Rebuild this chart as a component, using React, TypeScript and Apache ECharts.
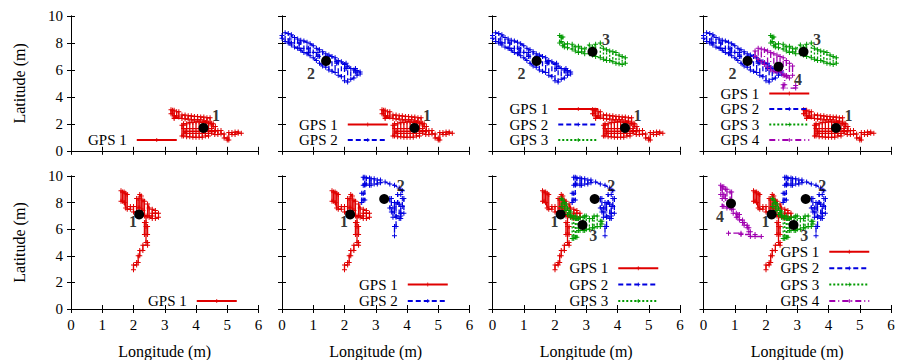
import React, { useEffect, useRef } from 'react';
import * as echarts from 'echarts';

const FONT = '"Liberation Serif", "DejaVu Serif", serif';

// Axis ranges / ticks
const xRange = [0, 6];
const yRange = [0, 10];
const xInterval = 1;
const yInterval = 2;

const seriesNames = ['GPS 1', 'GPS 2', 'GPS 3', 'GPS 4'];
const markerNames = ['1', '2', '3', '4'];

// ---- Top row traces (longitude, latitude) ----
const topGps1 = [
  [3.2, 3.05], [3.2, 2.75], [3.25, 2.75], [3.25, 3.0], [3.3, 3.0], [3.3, 2.6], [3.38, 2.6], [3.38, 2.9],
  [3.45, 2.9], [3.45, 2.5], [3.3, 2.5], [3.3, 2.4], [3.55, 2.4], [3.55, 2.65], [3.65, 2.65], [3.65, 2.35],
  [3.75, 2.35], [3.75, 2.6], [3.85, 2.6], [3.85, 2.3], [3.95, 2.3], [3.95, 2.55], [4.05, 2.55], [4.05, 2.3],
  [4.15, 2.3], [4.15, 2.5], [4.25, 2.5], [4.25, 2.2], [4.35, 2.2], [4.35, 2.45], [4.45, 2.45], [4.45, 2.0],
  [4.55, 2.0], [4.55, 1.8], [4.62, 1.8], [4.62, 1.5], [4.5, 1.5], [4.5, 2.05], [4.4, 2.05], [4.4, 1.1],
  [4.3, 1.1], [4.3, 2.1], [4.2, 2.1], [4.2, 1.0], [4.1, 1.0], [4.1, 2.15], [4.0, 2.15], [4.0, 1.0],
  [3.9, 1.0], [3.9, 2.1], [3.8, 2.1], [3.8, 1.05], [3.7, 1.05], [3.7, 2.0], [3.6, 2.0], [3.6, 1.1],
  [3.55, 1.1], [3.55, 1.9], [3.6, 1.9], [3.6, 1.65], [4.5, 1.65], [4.5, 1.3], [3.65, 1.3], [3.65, 1.45],
  [4.6, 1.45], [4.6, 1.2], [4.7, 1.2], [4.7, 1.5], [4.8, 1.5], [4.8, 1.25], [4.9, 1.25], [4.9, 0.95],
  [5.0, 0.95], [5.0, 0.8], [5.05, 0.8], [5.05, 1.35], [5.15, 1.35], [5.15, 1.2], [5.25, 1.2], [5.25, 1.4],
  [5.35, 1.4], [5.35, 1.3], [5.45, 1.3],
];
const topGps2 = [
  [0.0, 8.55], [0.0, 8.35], [0.1, 8.1], [0.1, 8.75], [0.2, 8.7], [0.2, 8.0], [0.3, 7.85], [0.3, 8.6],
  [0.4, 8.4], [0.4, 7.7], [0.5, 7.6], [0.5, 8.3], [0.6, 8.2], [0.6, 7.45], [0.7, 7.3], [0.7, 8.15],
  [0.8, 8.05], [0.8, 7.2], [0.9, 7.05], [0.9, 7.95], [1.0, 7.8], [1.0, 6.9], [1.1, 6.7], [1.1, 7.6],
  [1.2, 7.5], [1.2, 6.5], [1.3, 6.3], [1.3, 7.35], [1.4, 7.2], [1.4, 6.2], [1.5, 6.0], [1.5, 7.1],
  [1.6, 7.0], [1.6, 5.9], [1.7, 5.8], [1.7, 6.9], [1.8, 6.7], [1.8, 5.6], [1.9, 5.5], [1.9, 6.6],
  [2.0, 6.4], [2.0, 5.2], [2.1, 5.1], [2.1, 6.3], [2.2, 6.1], [2.2, 5.3], [2.3, 5.4], [2.3, 6.0],
  [2.4, 5.95], [2.4, 5.6], [2.5, 5.7], [2.5, 5.85], [2.35, 5.85], [2.35, 6.1], [2.05, 6.1], [2.05, 6.5],
  [1.75, 6.5], [1.75, 6.6], [1.45, 6.6], [1.45, 7.0], [1.15, 7.0], [1.15, 7.3], [0.85, 7.3], [0.85, 7.6],
  [0.55, 7.6], [0.55, 8.0], [0.25, 8.0], [0.25, 8.3],
];
const topGps3 = [
  [2.15, 8.55], [2.15, 8.0], [2.2, 8.1], [2.2, 8.45], [2.25, 8.45], [2.25, 7.8], [2.3, 7.7], [2.3, 7.9],
  [2.4, 7.95], [2.4, 7.65], [2.55, 7.55], [2.55, 7.9], [2.65, 7.7], [2.65, 7.4], [2.75, 7.3], [2.75, 7.75],
  [2.85, 7.6], [2.85, 7.35], [2.95, 7.2], [2.95, 7.55], [3.1, 7.85], [3.1, 7.2], [3.2, 7.1], [3.2, 7.7],
  [3.3, 7.9], [3.3, 7.0], [3.45, 6.9], [3.45, 8.0], [3.55, 7.6], [3.55, 6.8], [3.65, 6.7], [3.65, 7.5],
  [3.75, 7.4], [3.75, 6.7], [3.85, 6.6], [3.85, 7.35], [3.95, 7.3], [3.95, 6.5], [4.05, 6.45], [4.05, 7.1],
  [4.15, 7.0], [4.15, 6.4], [4.25, 6.5], [4.25, 6.9],
];
const topGps4 = [
  [1.65, 7.4], [1.65, 7.0], [1.75, 6.8], [1.75, 7.6], [1.85, 7.55], [1.85, 6.6], [1.95, 6.4], [1.95, 7.5],
  [2.05, 7.4], [2.05, 6.2], [2.15, 6.0], [2.15, 7.3], [2.25, 7.2], [2.25, 5.9], [2.35, 5.85], [2.35, 7.1],
  [2.45, 7.0], [2.45, 5.9], [2.55, 5.6], [2.55, 6.9], [2.65, 6.7], [2.65, 5.5], [2.75, 5.4], [2.75, 6.5],
  [2.85, 6.3], [2.85, 5.6], [2.6, 5.6], [2.6, 4.9], [2.55, 4.9], [2.55, 4.65], [2.95, 4.65], [2.95, 4.85],
];
const topCentroids = [[4.24, 1.7], [1.41, 6.67], [3.2, 7.35], [2.4, 6.24]];
const topLabelPos = [[4.64, 2.64], [0.93, 5.7], [3.63, 8.25], [3.02, 5.3]];

// ---- Bottom row traces ----
const botGps1 = [
  [1.6, 8.9], [1.6, 8.1], [1.65, 8.1], [1.65, 8.8], [1.7, 8.8], [1.7, 8.0], [1.75, 7.6], [1.75, 8.7],
  [1.8, 8.6], [1.8, 7.5], [1.9, 7.5], [1.9, 7.7], [2.0, 7.7], [2.0, 7.3], [2.1, 7.3], [2.1, 8.3],
  [2.15, 8.3], [2.15, 7.6], [2.2, 7.6], [2.2, 8.6], [2.25, 8.5], [2.25, 7.4], [2.3, 7.4], [2.3, 8.2],
  [2.35, 8.1], [2.35, 7.0], [2.45, 7.0], [2.45, 7.9], [2.5, 7.6], [2.5, 6.9], [2.6, 6.8], [2.6, 7.5],
  [2.7, 7.4], [2.7, 6.8], [2.8, 6.9], [2.8, 7.2], [2.6, 7.2], [2.6, 7.0], [2.4, 7.0], [2.4, 6.2],
  [2.45, 6.2], [2.45, 5.6], [2.35, 5.6], [2.35, 6.5], [2.4, 6.5], [2.4, 5.0], [2.45, 5.0], [2.45, 4.8],
  [2.3, 4.8], [2.3, 4.4], [2.2, 4.4], [2.2, 4.0], [2.15, 4.0], [2.15, 3.5], [2.1, 3.5], [2.1, 3.3],
  [2.0, 3.3], [2.0, 2.95],
];
const botGps2 = [
  [2.55, 8.0], [2.55, 8.7], [2.6, 8.7], [2.6, 8.2], [2.65, 8.2], [2.65, 9.3], [2.6, 9.3], [2.6, 9.9],
  [2.65, 9.9], [2.65, 9.4], [2.7, 9.4], [2.7, 9.85], [2.8, 9.85], [2.8, 9.3], [2.85, 9.3], [2.85, 9.8],
  [2.95, 9.8], [2.95, 9.4], [3.05, 9.4], [3.05, 9.7], [3.15, 9.7], [3.15, 9.5], [3.3, 9.55], [3.45, 9.4],
  [3.6, 9.3], [3.75, 9.1], [3.85, 8.9], [3.8, 8.6], [3.7, 8.6], [3.7, 8.0], [3.6, 8.0], [3.6, 7.3],
  [3.5, 7.3], [3.5, 8.3], [3.45, 8.3], [3.45, 7.6], [3.55, 7.6], [3.55, 6.9], [3.65, 6.9], [3.65, 7.9],
  [3.75, 7.9], [3.75, 6.8], [3.8, 6.8], [3.8, 7.7], [3.85, 7.7], [3.85, 8.3], [3.9, 8.3], [3.9, 7.2],
  [3.8, 7.2], [3.8, 7.0], [3.65, 7.0], [3.65, 6.2], [3.6, 6.2], [3.6, 5.5],
];
const botGps3 = [
  [2.2, 8.3], [2.2, 7.7], [2.25, 7.7], [2.25, 8.2], [2.3, 8.0], [2.3, 7.4], [2.35, 7.4], [2.35, 7.9],
  [2.4, 7.6], [2.4, 7.1], [2.45, 7.1], [2.45, 7.4], [2.5, 7.3], [2.5, 6.9], [2.55, 7.0], [2.55, 5.3],
  [2.6, 5.3], [2.6, 6.9], [2.65, 7.0], [2.65, 5.4], [2.7, 5.4], [2.7, 6.8], [2.75, 6.8], [2.75, 5.9],
  [2.8, 5.9], [2.8, 6.9], [2.9, 6.9], [2.9, 5.9], [2.95, 5.9], [2.95, 7.0], [3.0, 7.0], [3.0, 6.0],
  [3.1, 6.0], [3.1, 6.8], [3.2, 6.8], [3.2, 6.1], [3.25, 6.1], [3.25, 7.0], [3.35, 7.0], [3.35, 6.2],
  [3.45, 6.2], [3.45, 6.6], [3.5, 6.6], [3.5, 6.4],
];
const botGps4 = [
  [0.55, 9.3], [0.55, 8.6], [0.6, 8.6], [0.6, 9.2], [0.65, 9.2], [0.65, 7.7], [0.6, 7.7], [0.6, 8.3],
  [0.7, 8.3], [0.7, 9.0], [0.75, 9.0], [0.75, 7.6], [0.85, 7.6], [0.85, 8.8], [0.9, 8.8], [0.9, 7.5],
  [0.95, 7.5], [0.95, 7.2], [1.05, 7.2], [1.05, 6.9], [1.1, 6.9], [1.1, 7.1], [1.15, 7.1], [1.15, 6.7],
  [1.25, 6.7], [1.25, 6.5], [1.3, 6.5], [1.3, 6.3], [1.4, 6.3], [1.4, 6.1], [1.45, 6.1], [1.45, 5.8],
  [1.5, 5.8], [1.5, 5.45], [1.85, 5.45], [1.65, 5.45], [1.65, 5.6], [1.2, 5.6], [1.2, 5.7], [0.8, 5.7],
];
const botCentroids = [[2.18, 7.11], [3.27, 8.27], [2.88, 6.32], [0.88, 7.93]];
const botLabelPos = [[1.98, 6.6], [3.8, 9.3], [3.22, 5.55], [0.53, 6.94]];

const rows = [
  { traces: [topGps1, topGps2, topGps3, topGps4], centroids: topCentroids, labels: topLabelPos },
  { traces: [botGps1, botGps2, botGps3, botGps4], centroids: botCentroids, labels: botLabelPos },
];

const colors = ['#e00000', '#0000e0', '#009a00', '#a000b0'];
const lineTypes: any[] = ['solid', [5, 3], [2, 2], [6, 3, 1, 3]];
const PLUS = 'path://M2,0H3V2H5V3H3V5H2V3H0V2H2Z';

const colLefts = [71, 282, 492.5, 703.5];
const colWidth = 187.5;
const rowTops = [16, 176];
const rowHeight = 134.8;

export default function App() {
  const ref = useRef<HTMLDivElement>(null);
  useEffect(() => {
    const chart = echarts.init(ref.current!, null, { renderer: 'svg' });
    const grid: any[] = [];
    const xAxis: any[] = [];
    const yAxis: any[] = [];
    const series: any[] = [];
    const legend: any[] = [];
    const tickStyle = { show: true, inside: true, length: 4, lineStyle: { color: '#000', width: 1 } };
    const lineStyle = { show: true, lineStyle: { color: '#000', width: 1 } };
    rows.forEach((row, r) => {
      for (let c = 0; c < 4; c++) {
        const g = r * 4 + c;
        grid.push({ left: colLefts[c], top: rowTops[r], width: colWidth, height: rowHeight });
        const xBase = {
          type: 'value', gridIndex: g, min: xRange[0], max: xRange[1], interval: xInterval,
          axisLine: lineStyle, axisTick: tickStyle, splitLine: { show: false },
        };
        const yBase = {
          type: 'value', gridIndex: g, min: yRange[0], max: yRange[1], interval: yInterval,
          axisLine: lineStyle, axisTick: tickStyle, splitLine: { show: false },
        };
        xAxis.push({
          ...xBase, position: 'bottom',
          axisLabel: { show: r === 1, color: '#000', fontFamily: FONT, fontSize: 15, margin: 8 },
          name: r === 1 ? 'Longitude (m)' : '', nameLocation: 'middle', nameGap: 34,
          nameTextStyle: { color: '#000', fontFamily: FONT, fontSize: 16 },
        });
        xAxis.push({ ...xBase, position: 'top', axisLabel: { show: false } });
        yAxis.push({
          ...yBase, position: 'left',
          axisLabel: { show: c === 0, color: '#000', fontFamily: FONT, fontSize: 15, margin: 8 },
          name: c === 0 ? 'Latitude (m)' : '', nameLocation: 'middle', nameGap: 44,
          nameTextStyle: { color: '#000', fontFamily: FONT, fontSize: 16 },
        });
        yAxis.push({ ...yBase, position: 'right', axisLabel: { show: false } });

        for (let t = 0; t <= c; t++) {
          series.push({
            type: 'line', name: seriesNames[t], xAxisIndex: 2 * g, yAxisIndex: 2 * g,
            data: row.traces[t], symbol: PLUS, symbolSize: 5, showSymbol: true, showAllSymbol: true,
            lineStyle: { color: colors[t], width: 1.3, type: lineTypes[t] },
            itemStyle: { color: colors[t] }, z: 2 + t, silent: true,
          });
        }
        series.push({
          type: 'scatter', name: 'centroids-' + g, xAxisIndex: 2 * g, yAxisIndex: 2 * g,
          data: row.centroids.slice(0, c + 1), symbol: 'circle', symbolSize: 10,
          itemStyle: { color: '#000', opacity: 1 }, z: 10, silent: true,
        });
        series.push({
          type: 'scatter', name: 'labels-' + g, xAxisIndex: 2 * g, yAxisIndex: 2 * g,
          data: row.labels.slice(0, c + 1).map((p, i) => ({ name: markerNames[i], value: p })),
          symbolSize: 0.1, itemStyle: { color: 'rgba(0,0,0,0)' }, z: 11, silent: true,
          label: {
            show: true, position: 'inside', formatter: '{b}', color: '#000',
            fontFamily: FONT, fontSize: 16, fontWeight: 'bold',
          },
        });

        const pitch = r === 0 ? 15.5 : 16.4;
        const lastCenter = r === 0 ? 140 : 301;
        const firstCenter = lastCenter - pitch * c;
        legend.push({
          orient: 'vertical', left: colLefts[c] + (r === 0 ? 17 : 77), top: firstCenter - 7.5,
          padding: 0, itemWidth: 40, itemHeight: 5, itemGap: pitch - 15, align: 'right',
          selectedMode: false, data: seriesNames.slice(0, c + 1),
          textStyle: { color: '#000', fontFamily: FONT, fontSize: 15, padding: [0, 5, 0, 0] },
        });
      }
    });
    chart.setOption({
      animation: false,
      backgroundColor: '#fff',
      grid, xAxis, yAxis, series, legend,
    });
    return () => chart.dispose();
  }, []);
  return <div ref={ref} style={{ position: 'fixed', left: 0, top: 0, width: 902, height: 360 }} />;
}
